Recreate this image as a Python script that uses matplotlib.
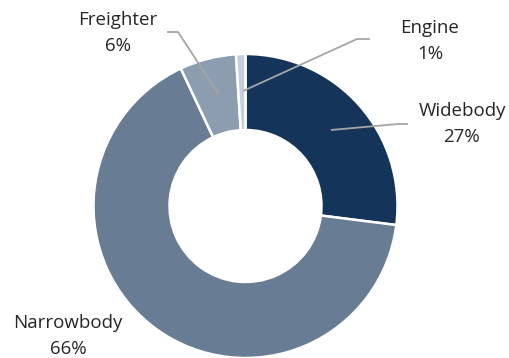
import matplotlib.pyplot as plt

labels = ["Widebody", "Narrowbody", "Freighter", "Engine"]
shares = [27, 66, 6, 1]
colors = ["#15345A", "#687C93", "#8C9DB0", "#C7D0DA"]

plt.rcParams["font.family"] = ["Open Sans", "DejaVu Sans"]

W, H = 510, 358
fig = plt.figure(figsize=(W / 100, H / 100), dpi=100)
ax = fig.add_axes([0, 0, 1, 1])

cx, cy, r = 245.5, H - 206, 152
ax.pie(
    shares,
    colors=colors,
    startangle=90,
    counterclock=False,
    center=(cx, cy),
    radius=r,
    wedgeprops=dict(width=r * 0.5, edgecolor="white", linewidth=1.8),
    frame=True,
)
ax.set_xlim(0, W)
ax.set_ylim(0, H)
ax.set_aspect("equal")
ax.axis("off")

line_kw = dict(color="#A6A6A6", lw=1.3, solid_capstyle="butt")
text_kw = dict(fontsize=13.5, color="#262626", ha="center", va="center")


def py(y):
    return H - y


# leader lines (pixel coords from the top)
ax.plot([218, 178, 167], [py(93), py(32), py(32)], **line_kw)
ax.plot([243, 357, 370], [py(91), py(39), py(39)], **line_kw)
ax.plot([331, 398, 408], [py(130), py(124), py(124)], **line_kw)

pct = dict(zip(labels, shares))
spots = {
    "Freighter": (118, 20),
    "Engine": (430, 28),
    "Widebody": (462, 111),
    "Narrowbody": (68, 323),
}
for name, (x, y) in spots.items():
    ax.text(x, py(y), name, **text_kw)
    ax.text(x, py(y + 26), f"{pct[name]}%", **text_kw)

fig.savefig("out.png", dpi=100)
